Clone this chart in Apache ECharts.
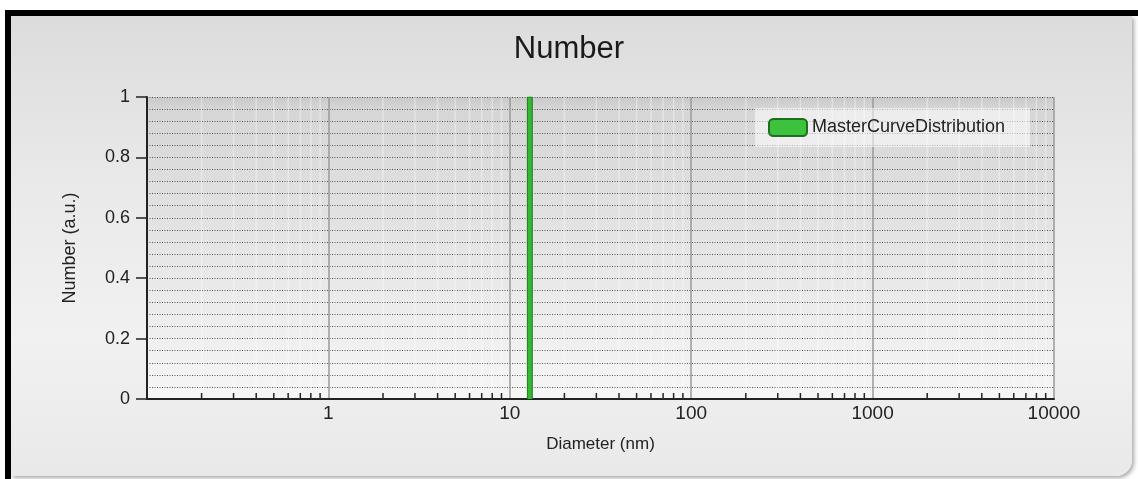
<!DOCTYPE html>
<html>
<head>
<meta charset="utf-8">
<script src="https://cdn.jsdelivr.net/npm/echarts@6/dist/echarts.min.js"></script>
<style>
  html, body { margin:0; padding:0; background:#fff; width:1138px; height:479px; overflow:hidden; }
  #frame { position:absolute; left:5px; top:10px; right:0; bottom:0; border-top:6px solid #000; border-left:6px solid #000; background:#fff; }
  #panel { position:absolute; left:0; top:0; right:6px; bottom:3px;
    background: linear-gradient(to bottom, #dcdcdc 0%, #e9e9e9 35%, #f1f1f1 70%, #e9e9e9 100%);
    border-radius: 0 0 16px 0; box-shadow: 2px 2px 4px rgba(0,0,0,0.35); }
  #chart { position:absolute; left:0; top:0; width:1138px; height:479px; }
</style>
</head>
<body>
<div id="frame"><div id="panel"></div></div>
<div id="chart"></div>
<script>
// ---- data ----
const chartTitle = 'Number';
const seriesName = 'MasterCurveDistribution';
const diameters = [12.5, 12.5, 13.3, 13.3];   // nm
const numbers   = [0, 1, 1, 0];               // a.u.
const xLabelValues = [1, 10, 100, 1000, 10000];
const decades = [0.1, 1, 10, 100, 1000];
const minorMultipliers = [2, 3, 4, 5, 6, 7, 8, 9];

const minorTicks = [];
decades.forEach(d => minorMultipliers.forEach(m => minorTicks.push([+(d * m).toPrecision(3), 0])));

const chart = echarts.init(document.getElementById('chart'), null, { renderer: 'canvas' });
const font = 'Liberation Sans, Arial, sans-serif';

chart.setOption({
  backgroundColor: 'transparent',
  animation: false,
  title: {
    text: chartTitle, left: 'center', top: 29,
    textStyle: { fontFamily: font, fontSize: 31, fontWeight: 'normal', color: '#1a1a1a' }
  },
  legend: {
    data: [{ name: seriesName, icon: 'roundRect' }],
    left: 755, top: 108,
    padding: [10, 25, 10, 13],
    backgroundColor: 'rgba(255,255,255,0.55)',
    itemWidth: 38, itemHeight: 17, itemGap: 6,
    textStyle: { fontFamily: font, fontSize: 18, color: '#222' }
  },
  grid: {
    left: 147, right: 84, top: 97, bottom: 80,
    show: true, borderWidth: 0,
    backgroundColor: new echarts.graphic.LinearGradient(0, 0, 0, 1, [
      { offset: 0, color: '#c9c9c9' },
      { offset: 0.04, color: '#d6d6d6' },
      { offset: 1, color: '#f6f6f6' }
    ])
  },
  xAxis: {
    type: 'log', logBase: 10, min: 0.1, max: 10000, interval: 1,
    name: 'Diameter (nm)', nameLocation: 'middle', nameGap: 37,
    nameTextStyle: { fontFamily: font, fontSize: 17, color: '#222' },
    axisLine: { show: true, lineStyle: { color: '#222', width: 2 } },
    axisTick: { show: false },
    axisLabel: {
      fontFamily: font, fontSize: 19, color: '#222', margin: 5,
      formatter: v => (v >= 1 ? String(Math.round(v)) : '')
    },
    splitLine: { show: true, lineStyle: { color: '#9a9a9a', width: 1.5 } }
  },
  yAxis: {
    type: 'value', min: 0, max: 1, interval: 0.2,
    name: 'Number (a.u.)', nameLocation: 'middle', nameGap: 68, nameRotate: 90,
    nameTextStyle: { fontFamily: font, fontSize: 18, color: '#222' },
    axisLine: { show: true, lineStyle: { color: '#222', width: 2 } },
    axisTick: { show: true, inside: false, length: 11, lineStyle: { color: '#222', width: 1.5 } },
    axisLabel: { fontFamily: font, fontSize: 18, color: '#222', margin: 17 },
    splitLine: { show: true, lineStyle: { color: '#555', width: 1, type: [1, 1.5] } },
    minorTick: { show: false, splitNumber: 5 },
    minorSplitLine: { show: true, lineStyle: { color: '#555', width: 1, type: [1, 1.5] } }
  },
  series: [
    {
      type: 'custom', silent: true, z: 1,
      data: minorTicks,
      encode: { x: 0, y: 1 },
      renderItem: (params, api) => {
        const x = api.coord([api.value(0), 0])[0];
        const cs = params.coordSys;
        const bottom = cs.y + cs.height;
        return {
          type: 'group',
          children: [
            { type: 'line', shape: { x1: x, y1: cs.y, x2: x, y2: bottom },
              style: { stroke: 'rgba(255,255,255,0.35)', lineWidth: 1.5 } },
            { type: 'line', shape: { x1: x, y1: bottom, x2: x, y2: bottom - 6 },
              style: { stroke: '#222', lineWidth: 1.5 } }
          ]
        };
      }
    },
    {
      name: seriesName, type: 'line', z: 3,
      data: diameters.map((d, i) => [d, numbers[i]]),
      symbol: 'none',
      lineStyle: { color: '#1f7a1f', width: 1 },
      itemStyle: { color: '#3cc23c', borderColor: '#1f6e1f', borderWidth: 1 },
      areaStyle: { color: '#34b834', opacity: 1 }
    }
  ]
});
</script>
</body>
</html>
